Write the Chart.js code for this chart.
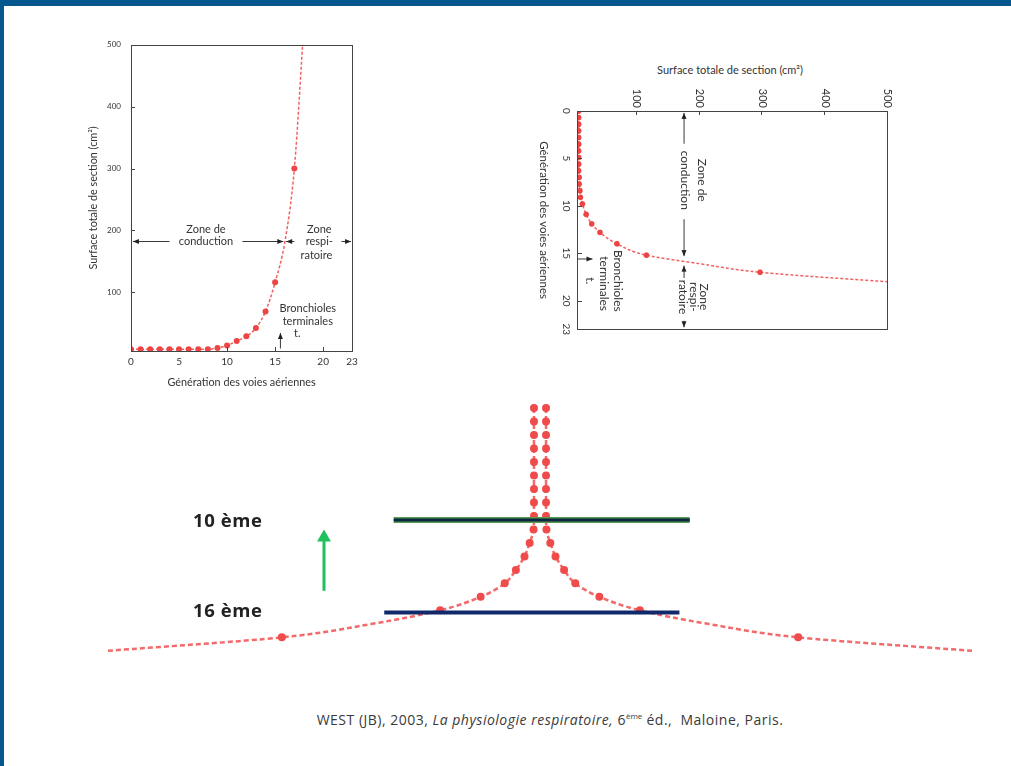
<!DOCTYPE html>
<html>
<head>
<meta charset="utf-8">
<script src="https://cdn.jsdelivr.net/npm/chart.js@4.4.0/dist/chart.umd.min.js"></script>
<style>
  body { margin: 0; background: #fff; width: 1011px; height: 766px; overflow: hidden; position: relative; font-family: Lato, sans-serif; }
  .abs { position: absolute; }
  #topbar { left: 0; top: 0; width: 1011px; height: 6px; background: #07578f; }
  #leftbar { left: 0; top: 0; width: 4px; height: 766px; background: #07578f; }
  #c1 { left: 80px; top: 30px; }
  #wrap2 { left: 0; top: 0; width: 260px; height: 365px; transform-origin: 0 0; transform: translate(898px, 81px) rotate(90deg); }
  #c3 { left: 100px; top: 395px; }
  .lvl { left: 193px; font: bold 18.5px "Open Sans", sans-serif; letter-spacing: 0.6px; line-height: 18px; color: #222; }
  #t2 { left: 630px; top: 63px; width: 200px; text-align: center; font: 11px Lato, sans-serif; color: #333; }
  #cap { left: 200px; top: 710px; width: 700px; text-align: center; font: 14px "Open Sans", sans-serif; letter-spacing: 0.5px; color: #3a3a3a; }
  #cap sup { font-size: 8px; letter-spacing: 0; }
</style>
</head>
<body>
<div id="topbar" class="abs"></div>
<div id="leftbar" class="abs"></div>

<canvas id="c1" class="abs" width="300" height="370"></canvas>
<div id="t2" class="abs">Surface totale de section (cm²)</div>
<div id="wrap2" class="abs"><canvas id="c2" width="260" height="365"></canvas></div>
<canvas id="c3" class="abs" width="880" height="275"></canvas>

<div class="abs lvl" style="top:511px">10 ème</div>
<div class="abs lvl" style="top:601px">16 ème</div>
<div id="cap" class="abs">WEST (JB), 2003, <i>La physiologie respiratoire,</i> 6<sup>ème</sup> éd.,&nbsp; Maloine, Paris.</div>

<script>
// airway generations and total cross-section area (cm2)
const gens = [0, 1, 2, 3, 4, 5, 6, 7, 8, 9, 10, 11, 12, 13, 14, 15, 16, 17, 18];
const surface1 = [8, 8, 8, 8, 8, 8, 8, 8, 8, 10, 14, 21, 29, 42, 69, 116, 180, 300, 534];
const noDot1 = [16, 18];

// rotated copy (top right)
const gens2 = [0, 0.7, 1.4, 2.1, 2.8, 3.5, 4.2, 4.9, 5.6, 6.3, 7.0, 7.7, 8.4, 9.1, 9.8, 10.9, 11.9, 12.8, 14.0, 15.2, 16.1, 17.0, 18.1];
const surface2 = [7, 7, 7, 7, 7, 7, 7, 7, 7, 7, 8, 8, 9, 10, 13, 19, 28, 41, 68, 115, 200, 296, 520];
const noDot2 = [20, 22];

// mirrored tree (bottom), half width in cm2
const half3 = [7, 7, 7, 7, 7, 7, 7, 7, 7, 7.5, 12, 18, 28, 41, 69, 116, 195, 300, 502];
const noDot3 = [16, 18];
const line10 = { g: 8.3, x: [-170, 174] };
const line16 = { g: 15.16, x: [-181, 162] };
const upArrow = { x: -251, g: [13.55, 9.6] };

const genTicks = [0, 5, 10, 15, 20, 23];
const surfTicks = [100, 200, 300, 400, 500];

const annPlugin = {
  id: 'ann',
  afterDatasetsDraw(chart, _a, o) {
    const { ctx, chartArea: a, scales: { x, y } } = chart;
    const px = v => x.getPixelForValue(v), py = v => y.getPixelForValue(v);
    ctx.save();
    ctx.strokeStyle = '#444';
    ctx.lineWidth = 1;
    ctx.strokeRect(Math.round(a.left) + .5, Math.round(a.top) + .5, Math.round(a.width), Math.round(a.height));
    ctx.beginPath();
    o.xt.forEach(v => { ctx.moveTo(Math.round(px(v)) + .5, a.bottom); ctx.lineTo(Math.round(px(v)) + .5, a.bottom - 4); });
    o.yt.forEach(v => { ctx.moveTo(a.left, Math.round(py(v)) + .5); ctx.lineTo(a.left + 4, Math.round(py(v)) + .5); });
    ctx.stroke();

    ctx.fillStyle = '#222';
    ctx.strokeStyle = '#222';
    ctx.lineWidth = 0.9;
    o.arrows.forEach(([g1, v1, g2, v2]) => {
      const x1 = px(g1), y1 = py(v1), x2 = px(g2), y2 = py(v2);
      const ang = Math.atan2(y2 - y1, x2 - x1), c = Math.cos(ang), s = Math.sin(ang);
      ctx.beginPath(); ctx.moveTo(x1, y1); ctx.lineTo(x2, y2); ctx.stroke();
      ctx.beginPath();
      ctx.moveTo(x2, y2);
      ctx.lineTo(x2 - 6 * c + 2.5 * s, y2 - 6 * s - 2.5 * c);
      ctx.lineTo(x2 - 6 * c - 2.5 * s, y2 - 6 * s + 2.5 * c);
      ctx.fill();
    });
    ctx.font = o.font;
    ctx.textAlign = 'center';
    ctx.textBaseline = 'middle';
    ctx.fillStyle = '#333';
    o.texts.forEach(([t, g, v]) => ctx.fillText(t, px(g), py(v)));
    ctx.restore();
  }
};

function curveChart(id, gx, vy, noDot, o) {
  return new Chart(document.getElementById(id), {
    type: 'line',
    data: {
      datasets: [{
        data: gx.map((g, i) => ({ x: g, y: vy[i] })),
        borderColor: 'rgba(240,80,80,0.9)',
        borderWidth: o.lw,
        borderDash: o.dash,
        pointBackgroundColor: '#ee4444',
        pointBorderWidth: 0,
        pointRadius: c => noDot.includes(c.dataIndex) ? 0 : o.r,
        cubicInterpolationMode: 'monotone'
      }]
    },
    options: {
      responsive: false,
      animation: false,
      layout: { padding: o.pad },
      plugins: { legend: { display: false }, tooltip: { enabled: false }, ann: o.ann },
      scales: {
        x: {
          type: 'linear', min: 0, max: 23,
          grid: { display: false, drawTicks: false },
          border: { display: false },
          afterBuildTicks: s => { s.ticks = genTicks.map(v => ({ value: v })); },
          afterFit: s => { s.height = o.xh; },
          ticks: { padding: o.xpad, color: '#333', maxRotation: 0, font: { family: 'Lato', size: o.xfs } },
          title: { display: true, text: 'Génération des voies aériennes', color: '#333',
                   font: { family: 'Lato', size: o.tfs }, padding: { top: 0, bottom: o.xtp } }
        },
        y: {
          type: 'linear', min: o.ymin, max: 500,
          grid: { display: false, drawTicks: false },
          border: { display: false },
          afterBuildTicks: s => { s.ticks = surfTicks.map(v => ({ value: v })); },
          afterFit: s => { s.width = o.yw; },
          ticks: { padding: o.ypad, color: '#333', font: { family: 'Lato', size: o.yfs } },
          title: { display: o.ytitle, text: 'Surface totale de section (cm²)', color: '#333',
                   font: { family: 'Lato', size: o.tfs }, padding: { top: 7, bottom: 0 } }
        }
      }
    },
    plugins: [annPlugin]
  });
}

curveChart('c1', gens, surface1, noDot1, {
  lw: 1.5, dash: [3, 2], r: 3, pad: { left: 0, top: 7, right: 28, bottom: 4 },
  xh: 45, yw: 51, xpad: 5, ypad: 10, xfs: 10, yfs: 8, tfs: 10.8, xtp: 7, ymin: 5, ytitle: true,
  ann: {
    xt: [10, 15, 20], yt: [100, 200, 300, 400],
    font: '11px Lato',
    arrows: [[4.0, 182, 0.2, 182], [11.6, 182, 15.85, 182], [17.0, 182, 16.15, 182], [21.9, 182, 22.9, 182], [15.55, 9, 15.55, 34]],
    texts: [['Zone de', 7.8, 202], ['conduction', 7.8, 182], ['Zone', 19.6, 202], ['respi-', 19.6, 182],
            ['ratoire', 19.3, 160], ['Bronchioles', 18.4, 74], ['terminales', 18.4, 53], ['t.', 17.3, 34]]
  }
});

curveChart('c2', gens2, surface2, noDot2, {
  lw: 1.5, dash: [3, 2], r: 2.8, pad: { left: 0, top: 10, right: 10, bottom: 0 },
  xh: 45, yw: 30, xpad: 6, ypad: 3, xfs: 10, yfs: 11, tfs: 11.5, xtp: 4, ymin: 6, ytitle: false,
  ann: {
    xt: [5, 10, 15, 20], yt: [100, 200, 300, 400],
    font: '12px Lato',
    arrows: [[3.45, 175, 0.2, 175], [11.4, 175, 15.3, 175], [17.6, 175, 16.3, 175], [22.1, 175, 22.8, 175], [15.6, 6, 15.6, 29]],
    texts: [['Zone de', 7.3, 204], ['conduction', 7.3, 177], ['Zone', 19.6, 207], ['respi-', 19.6, 190],
            ['ratoire', 19.6, 173], ['Bronchioles', 17.9, 69], ['terminales', 18.2, 47], ['t.', 17.9, 25]]
  }
});

const red = { borderColor: 'rgba(240,80,80,0.85)', borderWidth: 2.5, borderDash: [5, 3], pointBackgroundColor: '#ef4b4b',
              pointBorderWidth: 0, pointRadius: c => noDot3.includes(c.dataIndex) ? 0 : 4, cubicInterpolationMode: 'monotone' };

new Chart(document.getElementById('c3'), {
  type: 'line',
  data: {
    datasets: [
      { data: line10.x.map(x => ({ x, y: line10.g })), borderColor: '#0b2545', borderWidth: 3, pointRadius: 0 },
      { data: line10.x.map(x => ({ x, y: line10.g })), borderColor: '#5b9a4e', borderWidth: 6, pointRadius: 0 },
      { data: line16.x.map(x => ({ x, y: line16.g })), borderColor: '#10296b', borderWidth: 4, pointRadius: 0 },
      { data: upArrow.g.map(g => ({ x: upArrow.x, y: g })), borderColor: '#1ec15c', borderWidth: 3,
        pointStyle: 'triangle', pointRadius: [0, 8], pointBackgroundColor: '#1ec15c', pointBorderWidth: 0 },
      Object.assign({ data: gens.map((g, i) => ({ x: -half3[i], y: g })) }, red),
      Object.assign({ data: gens.map((g, i) => ({ x: half3[i], y: g })) }, red)
    ]
  },
  options: {
    responsive: false,
    animation: false,
    indexAxis: 'y',
    layout: { padding: { left: 3, top: 5, right: 8, bottom: 10 } },
    plugins: { legend: { display: false }, tooltip: { enabled: false } },
    scales: {
      x: { type: 'linear', min: -502, max: 502, display: false },
      y: { type: 'linear', min: -0.37, max: 18.68, reverse: true, display: false }
    }
  }
});
</script>
</body>
</html>
